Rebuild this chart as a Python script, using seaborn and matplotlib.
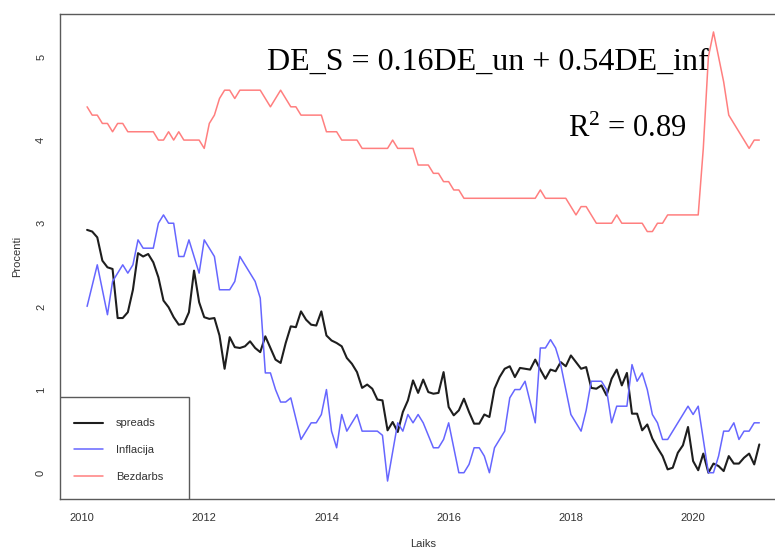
import numpy as np
import pandas as pd
import matplotlib
matplotlib.use("Agg")
import matplotlib.pyplot as plt
import seaborn as sns
from matplotlib.patches import Rectangle

# ---------------- data ----------------
start_year = 2010
start_month = 2   # monthly series, Feb 2010 .. Feb 2021

spreads = [2.92, 2.90, 2.83, 2.55, 2.47, 2.45, 1.86, 1.86, 1.93, 2.20,
           2.64, 2.60, 2.63, 2.53, 2.35, 2.07, 1.99, 1.87, 1.78, 1.79,
           1.93, 2.43, 2.05, 1.87, 1.85, 1.86, 1.65, 1.25, 1.63, 1.51,
           1.50, 1.52, 1.58, 1.50, 1.45, 1.64, 1.50, 1.36, 1.32, 1.56,
           1.76, 1.75, 1.94, 1.84, 1.78, 1.77, 1.94, 1.65, 1.59, 1.56,
           1.52, 1.38, 1.31, 1.21, 1.02, 1.06, 1.01, 0.88, 0.87, 0.51,
           0.61, 0.49, 0.73, 0.87, 1.11, 0.96, 1.12, 0.97, 0.95, 0.96,
           1.21, 0.79, 0.69, 0.75, 0.89, 0.73, 0.59, 0.59, 0.70, 0.67,
           1.01, 1.15, 1.25, 1.28, 1.15, 1.26, 1.25, 1.24, 1.36, 1.24,
           1.13, 1.24, 1.22, 1.33, 1.28, 1.41, 1.33, 1.25, 1.27, 1.02,
           1.01, 1.05, 0.93, 1.13, 1.24, 1.05, 1.20, 0.71, 0.71, 0.51,
           0.58, 0.41, 0.30, 0.20, 0.04, 0.06, 0.24, 0.33, 0.55, 0.14,
           0.03, 0.23, 0.00, 0.11, 0.08, 0.02, 0.20, 0.11, 0.11, 0.18,
           0.23, 0.10, 0.34]

inflacija = [2.0, 2.25, 2.5, 2.2, 1.9, 2.3, 2.4, 2.5, 2.4, 2.5,
             2.8, 2.7, 2.7, 2.7, 3.0, 3.1, 3.0, 3.0, 2.6, 2.6,
             2.8, 2.6, 2.4, 2.8, 2.7, 2.6, 2.2, 2.2, 2.2, 2.3,
             2.6, 2.5, 2.4, 2.3, 2.1, 1.2, 1.2, 1.0, 0.85, 0.85,
             0.9, 0.65, 0.4, 0.5, 0.6, 0.6, 0.7, 1.0, 0.5, 0.3,
             0.7, 0.5, 0.6, 0.7, 0.5, 0.5, 0.5, 0.5, 0.45, -0.1,
             0.25, 0.6, 0.5, 0.7, 0.6, 0.7, 0.6, 0.45, 0.3, 0.3,
             0.4, 0.6, 0.3, 0.0, 0.0, 0.1, 0.3, 0.3, 0.2, 0.0,
             0.3, 0.4, 0.5, 0.9, 1.0, 1.0, 1.1, 0.85, 0.6, 1.5,
             1.5, 1.6, 1.5, 1.3, 1.0, 0.7, 0.6, 0.5, 0.75, 1.1,
             1.1, 1.1, 1.0, 0.6, 0.8, 0.8, 0.8, 1.3, 1.1, 1.2,
             1.0, 0.7, 0.6, 0.4, 0.4, 0.5, 0.6, 0.7, 0.8, 0.7,
             0.8, 0.4, 0.0, 0.0, 0.2, 0.5, 0.5, 0.6, 0.4, 0.5,
             0.5, 0.6, 0.6]

bezdarbs = [4.4, 4.3, 4.3, 4.2, 4.2, 4.1, 4.2, 4.2, 4.1, 4.1,
            4.1, 4.1, 4.1, 4.1, 4.0, 4.0, 4.1, 4.0, 4.1, 4.0,
            4.0, 4.0, 4.0, 3.9, 4.2, 4.3, 4.5, 4.6, 4.6, 4.5,
            4.6, 4.6, 4.6, 4.6, 4.6, 4.5, 4.4, 4.5, 4.6, 4.5,
            4.4, 4.4, 4.3, 4.3, 4.3, 4.3, 4.3, 4.1, 4.1, 4.1,
            4.0, 4.0, 4.0, 4.0, 3.9, 3.9, 3.9, 3.9, 3.9, 3.9,
            4.0, 3.9, 3.9, 3.9, 3.9, 3.7, 3.7, 3.7, 3.6, 3.6,
            3.5, 3.5, 3.4, 3.4, 3.3, 3.3, 3.3, 3.3, 3.3, 3.3,
            3.3, 3.3, 3.3, 3.3, 3.3, 3.3, 3.3, 3.3, 3.3, 3.4,
            3.3, 3.3, 3.3, 3.3, 3.3, 3.2, 3.1, 3.2, 3.2, 3.1,
            3.0, 3.0, 3.0, 3.0, 3.1, 3.0, 3.0, 3.0, 3.0, 3.0,
            2.9, 2.9, 3.0, 3.0, 3.1, 3.1, 3.1, 3.1, 3.1, 3.1,
            3.1, 3.9, 5.0, 5.3, 5.0, 4.7, 4.3, 4.2, 4.1, 4.0,
            3.9, 4.0, 4.0]

series_names = ["spreads", "Inflacija", "Bezdarbs"]
series_colors = ["#1e1e1e", "#6666ff", "#ff7f7f"]
series_widths = [1.5, 1.1, 1.1]

x_ticks = [2010, 2012, 2014, 2016, 2018, 2020]
y_ticks = [0, 1, 2, 3, 4, 5]
x_label = "Laiks"
y_label = "Procenti"
eq_text = "DE_S = 0.16DE_un + 0.54DE_inf"
r2_text = r"R$\mathregular{^2}$ = 0.89"

# ---------------- frame ----------------
n = len(spreads)
time = start_year + (start_month - 1 + np.arange(n)) / 12.0
df = pd.DataFrame({
    "time": np.tile(time, 3),
    "value": spreads + inflacija + bezdarbs,
    "series": np.repeat(series_names, n),
})

sns.set_style("white")
plt.rcParams["font.family"] = ["Liberation Sans", "DejaVu Sans"]
plt.rcParams["mathtext.fontset"] = "custom"
plt.rcParams["mathtext.rm"] = "Liberation Serif"

fig = plt.figure(figsize=(7.75, 5.5), dpi=100)
W, H = 775, 550
ax_left, ax_right, ax_top, ax_bottom = 60, 786, 14, 499
ax = fig.add_axes([ax_left / W, (H - ax_bottom) / H,
                   (ax_right - ax_left) / W, (ax_bottom - ax_top) / H])

for name, col, lw in zip(series_names, series_colors, series_widths):
    sub = df[df["series"] == name]
    sns.lineplot(data=sub, x="time", y="value", color=col, linewidth=lw,
                 ax=ax, label=name, estimator=None, sort=False)

ax.set_xlim(2009.64, 2021.52)
ax.set_ylim(-0.316, 5.516)
ax.set_xticks(x_ticks)
ax.set_yticks(y_ticks)
ax.set_xticklabels([str(t) for t in x_ticks])
ax.set_yticklabels([str(t) for t in y_ticks], rotation=90, va="center")

axis_col = "#5a5a5a"
for s in ax.spines.values():
    s.set_color(axis_col)
    s.set_linewidth(1.0)
ax.tick_params(axis="both", direction="out", length=5, width=1.0,
               color=axis_col, labelsize=8, labelcolor="#333333", pad=5)

ax.set_xlabel(x_label, fontsize=8, color="#333333")
ax.set_ylabel(y_label, fontsize=8, color="#333333")
ax.xaxis.set_label_coords(0.5, -0.082)
ax.yaxis.set_label_coords(-0.052, 0.5)

# legend box
ax.add_patch(Rectangle((0, 0), 129 / 726, 102.3 / 485, transform=ax.transAxes,
                       facecolor="white", edgecolor=axis_col, linewidth=1.0,
                       zorder=4))
leg = ax.legend(loc="upper left", bbox_to_anchor=(0.0193, 0.166),
                borderpad=0, borderaxespad=0, frameon=False, fontsize=8,
                handlelength=2.6, handletextpad=1.2, labelspacing=1.5)
leg.set_zorder(5)
for t in leg.get_texts():
    t.set_color("#333333")

ax.text(0.5895, 0.8845, eq_text, transform=ax.transAxes, ha="center",
        va="baseline", fontsize=23, family=["Liberation Serif"], color="black")
ax.text(0.781, 0.7464, r2_text, transform=ax.transAxes, ha="center",
        va="baseline", fontsize=22, family=["Liberation Serif"], color="black")

fig.savefig("out.png", dpi=100)
